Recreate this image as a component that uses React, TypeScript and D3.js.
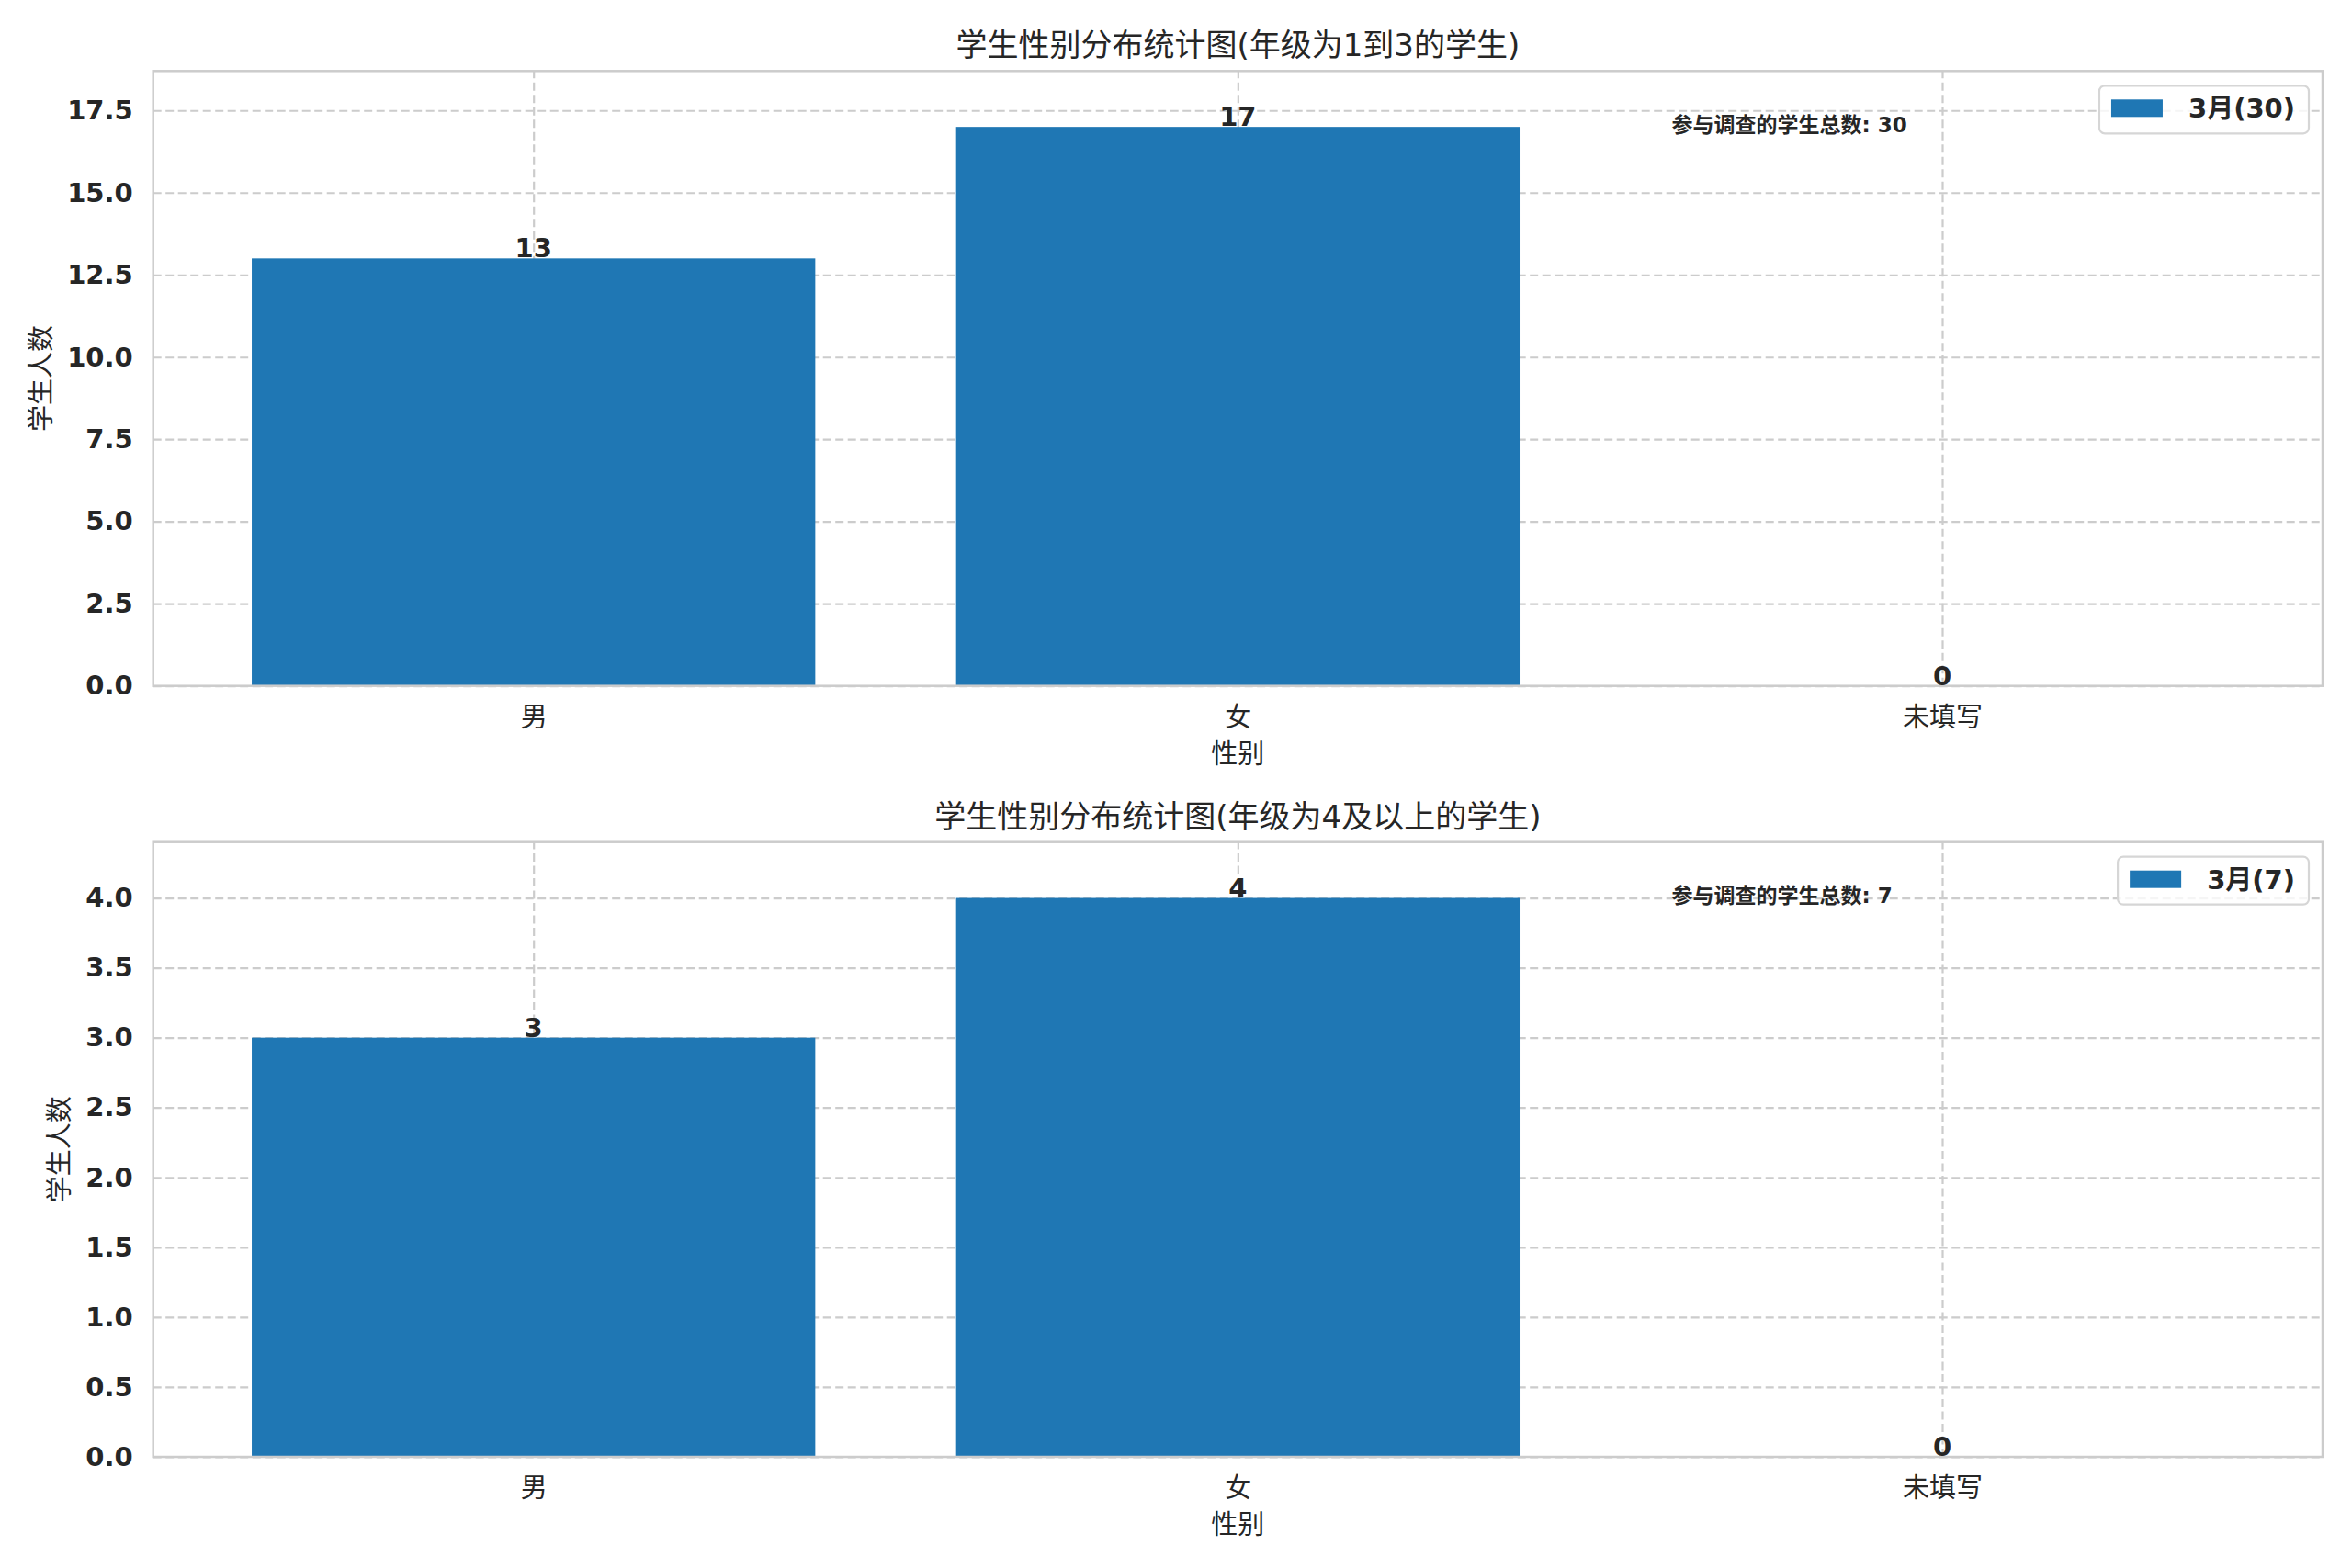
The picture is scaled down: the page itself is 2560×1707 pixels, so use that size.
import { useEffect, useRef } from 'react';
import * as d3 from 'd3';

// Chart data
const categories = ['男', '女', '未填写'];
const upperCounts = [13, 17, 0];
const lowerCounts = [3, 4, 0];
const upperTicks = [0, 2.5, 5, 7.5, 10, 12.5, 15, 17.5];
const lowerTicks = [0, 0.5, 1, 1.5, 2, 2.5, 3, 3.5, 4];
const titles = ['学生性别分布统计图(年级为1到3的学生)', '学生性别分布统计图(年级为4及以上的学生)'];
const legendLabels = ['3月(30)', '3月(7)'];
const totalLabels = ['参与调查的学生总数: 30', '参与调查的学生总数: 7'];
const xLabel = '性别';
const yLabel = '学生人数';

const W = 2560;
const H = 1707;
const LEFT = 166.7;
const RIGHT = 2528;
const TEXT = '#262626';
const BAR = '#1f77b4';
const GRID = '#cccccc';
const FONT = '"DejaVu Sans", "Noto Sans CJK SC", sans-serif';

export default function App() {
  const ref = useRef<SVGSVGElement>(null);

  useEffect(() => {
    document.body.style.margin = '0';
    const svg = d3.select(ref.current);
    svg.selectAll('*').remove();

    svg.append('rect').attr('width', W).attr('height', H).attr('fill', '#ffffff');

    const panels = [
      { top: 77.3, bottom: 746.7, counts: upperCounts, ticks: upperTicks, title: titles[0], legend: legendLabels[0], total: totalLabels[0] },
      { top: 916.7, bottom: 1586, counts: lowerCounts, ticks: lowerTicks, title: titles[1], legend: legendLabels[1], total: totalLabels[1] },
    ];

    panels.forEach(p => {
      const x = d3
        .scaleLinear()
        .domain([-0.54, categories.length - 1 + 0.54])
        .range([LEFT, RIGHT]);
      const y = d3
        .scaleLinear()
        .domain([0, (d3.max(p.counts) || 1) * 1.1])
        .range([p.bottom, p.top]);

      const g = svg.append('g');

      // horizontal grid
      const hgrid = g
        .append('g')
        .attr('transform', `translate(${LEFT},0)`)
        .call(d3.axisLeft(y).tickValues(p.ticks).tickSize(-(RIGHT - LEFT)).tickFormat(() => ''));
      hgrid.select('.domain').remove();
      hgrid
        .selectAll('.tick line')
        .attr('stroke', GRID)
        .attr('stroke-width', 2.2)
        .attr('stroke-dasharray', '9,4.5');

      // vertical grid at categories
      const vgrid = g
        .append('g')
        .attr('transform', `translate(0,${p.bottom})`)
        .call(d3.axisBottom(x).tickValues(categories.map((_, i) => i)).tickSize(-(p.bottom - p.top)).tickFormat(() => ''));
      vgrid.select('.domain').remove();
      vgrid
        .selectAll('.tick line')
        .attr('stroke', GRID)
        .attr('stroke-width', 2.2)
        .attr('stroke-dasharray', '9,4.5');

      // bars
      g.selectAll('.bar')
        .data(p.counts)
        .join('rect')
        .attr('class', 'bar')
        .attr('x', (_, i) => x(i - 0.4))
        .attr('width', x(0.4) - x(-0.4))
        .attr('y', d => y(d))
        .attr('height', d => y(0) - y(d))
        .attr('fill', BAR);

      // spines
      g.append('rect')
        .attr('x', LEFT)
        .attr('y', p.top)
        .attr('width', RIGHT - LEFT)
        .attr('height', p.bottom - p.top)
        .attr('fill', 'none')
        .attr('stroke', GRID)
        .attr('stroke-width', 2.5);

      // y tick labels
      const yAxis = g
        .append('g')
        .attr('transform', `translate(${LEFT},0)`)
        .call(d3.axisLeft(y).tickValues(p.ticks).tickSize(0).tickPadding(22).tickFormat(d => (+d).toFixed(1)));
      yAxis.select('.domain').remove();
      yAxis
        .selectAll('.tick text')
        .attr('fill', TEXT)
        .style('font-family', FONT)
        .style('font-size', '29px')
        .style('font-weight', 'bold');

      // x tick labels
      const xAxis = g
        .append('g')
        .attr('transform', `translate(0,${p.bottom})`)
        .call(d3.axisBottom(x).tickValues(categories.map((_, i) => i)).tickSize(0).tickPadding(0).tickFormat(d => categories[+d]));
      xAxis.select('.domain').remove();
      xAxis
        .selectAll('.tick text')
        .attr('y', 34)
        .attr('dy', '0.36em')
        .attr('fill', TEXT)
        .style('font-family', FONT)
        .style('font-size', '29px');

      // bar value labels
      g.selectAll('.val')
        .data(p.counts)
        .join('text')
        .attr('class', 'val')
        .attr('x', (_, i) => x(i))
        .attr('y', d => y(d) - 1)
        .attr('text-anchor', 'middle')
        .attr('fill', TEXT)
        .style('font-size', '29px')
        .style('font-weight', 'bold')
        .text(d => d);

      // axis labels
      g.append('text')
        .attr('x', (LEFT + RIGHT) / 2)
        .attr('y', p.bottom + 74)
        .attr('dy', '0.36em')
        .attr('text-anchor', 'middle')
        .attr('fill', TEXT)
        .style('font-size', '29px')
        .text(xLabel);

      // tick label bbox is local to the translated group
      const tickBox = (yAxis.node() as SVGGElement).getBBox();
      const ylx = LEFT + tickBox.x - 14 - 14.5;
      const yly = (p.top + p.bottom) / 2;
      g.append('text')
        .attr('transform', `translate(${ylx},${yly}) rotate(-90)`)
        .attr('dy', '0.36em')
        .attr('text-anchor', 'middle')
        .attr('fill', TEXT)
        .style('font-size', '29px')
        .text(yLabel);

      // title
      g.append('text')
        .attr('x', (LEFT + RIGHT) / 2)
        .attr('y', p.top - 16)
        .attr('text-anchor', 'middle')
        .attr('fill', TEXT)
        .style('font-size', '34px')
        .text(p.title);

      // total annotation
      g.append('text')
        .attr('x', LEFT + 0.7 * (RIGHT - LEFT))
        .attr('y', p.bottom - 0.913 * (p.bottom - p.top))
        .attr('dy', '0.36em')
        .attr('fill', TEXT)
        .style('font-size', '23px')
        .style('font-weight', 'bold')
        .text(p.total);

      // legend
      const lg = g.append('g');
      const boxRight = RIGHT - 15;
      const boxTop = p.top + 16;
      const lbl = lg
        .append('text')
        .attr('fill', TEXT)
        .style('font-size', '29px')
        .style('font-weight', 'bold')
        .text(p.legend);
      const tw = (lbl.node() as SVGTextElement).getComputedTextLength();
      const boxW = 13 + 56 + 28 + tw + 15;
      const boxLeft = boxRight - boxW;
      lg.insert('rect', 'text')
        .attr('x', boxLeft)
        .attr('y', boxTop)
        .attr('width', boxW)
        .attr('height', 52)
        .attr('rx', 6)
        .attr('fill', '#ffffff')
        .attr('fill-opacity', 0.8)
        .attr('stroke', '#d6d6d6')
        .attr('stroke-width', 2.2);
      lg.insert('rect', 'text')
        .attr('x', boxLeft + 13)
        .attr('y', boxTop + 15)
        .attr('width', 56)
        .attr('height', 19)
        .attr('fill', BAR);
      lbl.attr('x', boxLeft + 13 + 56 + 28).attr('y', boxTop + 35);
    });
  }, []);

  return (
    <svg
      ref={ref}
      width={W}
      height={H}
      style={{ display: 'block', fontFamily: FONT }}
    />
  );
}
